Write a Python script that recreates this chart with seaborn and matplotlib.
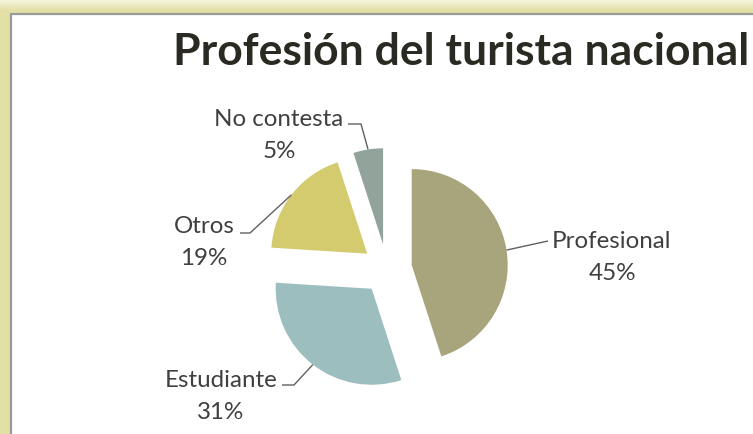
import numpy as np
import matplotlib
matplotlib.use("Agg")
import matplotlib.pyplot as plt
from matplotlib.patches import Rectangle
import seaborn as sns

# ---- data ----
categories = ["Profesional", "Estudiante", "Otros", "No contesta"]
values = [45, 31, 19, 5]
pct_labels = ["45%", "31%", "19%", "5%"]
colors = ["#A8A57C", "#9DBEBE", "#D4CB6E", "#91A39B"]
title = "Profesión del turista nacional"

sns.set_theme(style="white")
plt.rcParams['font.family'] = ['Lato', 'DejaVu Sans']

W, H = 753, 435
fig = plt.figure(figsize=(W / 100, H / 100), dpi=100)

# ---- background frame (yellow glow + white chart area) ----
bg = fig.add_axes([0, 0, 1, 1])
bg.axis('off')
yellow = np.array([227, 224, 166]) / 255.0
light = np.array([246, 245, 225]) / 255.0
t = np.clip(np.arange(H) / 11.0, 0, 1)[:, None, None]
img = light * (1 - t) + yellow * t
img = np.broadcast_to(img, (H, W, 3)).copy()
bg.imshow(img, extent=(0, W, H, 0), aspect='auto', interpolation='bilinear')
bg.add_patch(Rectangle((11, 15), W + 50, H + 50, facecolor='white',
                       edgecolor='#9A9A9A', linewidth=1.6))
bg.set_xlim(0, W)
bg.set_ylim(H, 0)

# ---- pie ----
ax = fig.add_axes([0, 0, 1, 1])
ax.patch.set_alpha(0)

def py(y):  # top-down pixel y -> data y
    return H - y

wedges, _ = ax.pie(values, colors=colors, startangle=90, counterclock=False,
                   explode=[25] * len(values), radius=96, center=(387, py(270)),
                   wedgeprops=dict(linewidth=0), frame=False)
ax.set_xlim(0, W)
ax.set_ylim(0, H)
ax.set_aspect('auto')
ax.axis('off')

# label layout: (text center x, top-line baseline y, elbow points (top-down px))
layout = {
    "Profesional": dict(tx=612, ty=248, elbow=[(548, 242)]),
    "Estudiante": dict(tx=221, ty=387, elbow=[(294, 386), (282, 386)]),
    "Otros": dict(tx=204, ty=233, elbow=[(250, 234), (240, 234)]),
    "No contesta": dict(tx=279, ty=126, elbow=[(361, 125), (348, 125)]),
}

txt_color = '#404040'
for w, cat, pct in zip(wedges, categories, pct_labels):
    L = layout[cat]
    mid = np.deg2rad((w.theta1 + w.theta2) / 2)
    cx, cy = w.center
    ax0 = cx + w.r * np.cos(mid)
    ay0 = cy + w.r * np.sin(mid)
    xs = [ax0] + [p[0] for p in L['elbow']]
    ys = [ay0] + [py(p[1]) for p in L['elbow']]
    ax.plot(xs, ys, color='#606060', lw=1.0, solid_capstyle='butt')
    ax.text(L['tx'], py(L['ty']), cat, ha='center', va='baseline',
            fontsize=17.4, color=txt_color)
    ax.text(L['tx'], py(L['ty'] + 32), pct, ha='center', va='baseline',
            fontsize=17.4, color=txt_color)

ax.text(461, py(65), title, ha='center', va='baseline', fontsize=32,
        fontweight='bold', color='#2A2A22')

fig.savefig("out.png", dpi=100)
